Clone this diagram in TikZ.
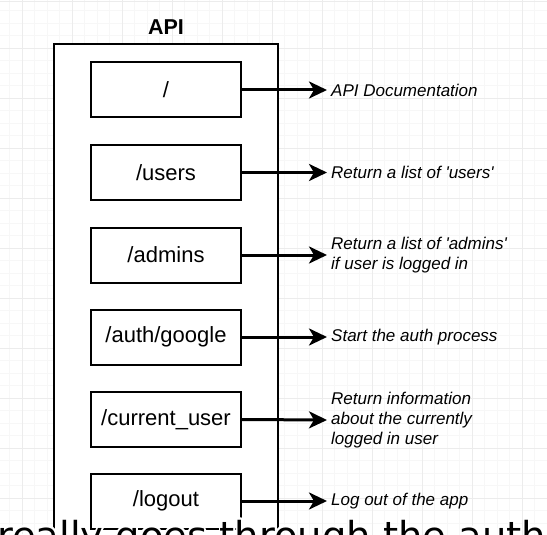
\documentclass[tikz,border=0pt]{standalone}
\usepackage{fontspec}
\setmainfont{Liberation Sans}
\newfontfamily\subtitlefont{DejaVu Sans}
\usepackage{contour}
\contourlength{1.5pt}
\usetikzlibrary{positioning,arrows.meta}

\definecolor{gridminor}{RGB}{247,247,247}
\definecolor{gridmajor}{RGB}{236,236,236}

\tikzset{
  routebox/.style={draw, line width=2pt, fill=white, minimum width=150pt, minimum height=55pt,
    inner sep=0pt, outer sep=0pt, font=\fontsize{22}{26}\selectfont},
  desc/.style={anchor=west, align=left, inner sep=4pt, font=\fontsize{17}{20}\selectfont\itshape},
  callarrow/.style={line width=3pt, -{Stealth[length=18pt,width=17pt,inset=5pt]}},
}
\newcommand{\sq}{\textquotesingle}

\begin{document}
\begin{tikzpicture}[x=1pt,y=-1pt]
    \useasboundingbox (0,0) rectangle (547,535);
    \clip (0,0) rectangle (547,535);
    \fill[white] (0,0) rectangle (547,535);

    % Grid
    \foreach \gx in {9.5,22,...,547} \draw[gridminor, line width=0.8pt] (\gx,0) -- (\gx,535);
    \foreach \gy in {10.5,23,...,535} \draw[gridminor, line width=0.8pt] (0,\gy) -- (547,\gy);
    \foreach \gx in {22,72,...,547} \draw[gridmajor, line width=0.8pt] (\gx,0) -- (\gx,535);
    \foreach \gy in {48,98,...,535} \draw[gridmajor, line width=0.8pt] (0,\gy) -- (547,\gy);
    \draw[gridmajor, line width=1.2pt] (0,1.5) -- (547,1.5);

    % API container
    \node[font=\fontsize{21.5}{24}\selectfont\bfseries] (title) at (166,27) {API};
    \draw[line width=2pt, fill=white] (54,44) rectangle (278,580);

    % Routes
    \node[routebox] (root)    at (166,90)    {/};
    \node[routebox] (users)   at (166,172.5) {/users};
    \node[routebox] (admins)  at (166,255)   {/admins};
    \node[routebox] (google)  at (166,337)   {/auth/google};
    \node[routebox] (current) at (166,419.5) {/current\_user};
    \node[routebox] (logout)  at (166,501)   {/logout};

    % Descriptions
    \node[desc] (rootdesc)    at (327,90)    {API Documentation};
    \node[desc] (usersdesc)   at (327,172.5) {Return a list of \sq users\sq};
    \node[desc] (adminsdesc)  at (327,255)   {Return a list of \sq admins\sq\\if user is logged in};
    \node[desc] (googledesc)  at (327,337)   {Start the auth process};
    \node[desc] (currentdesc) at (327,420)   {Return information\\about the currently\\logged in user};
    \node[desc] (logoutdesc)  at (327,501)   {Log out of the app};

    \foreach \r in {root,users,admins,google,current,logout}
        \draw[callarrow] (\r.east) -- (\r desc.west);

    % Subtitle over the picture
    \node[anchor=base west, inner sep=0pt, font=\subtitlefont\fontsize{38.5}{40}\selectfont] (subtitle)
        at (-3,549) {\contour{white}{really goes through the auth}};
\end{tikzpicture}
\end{document}
